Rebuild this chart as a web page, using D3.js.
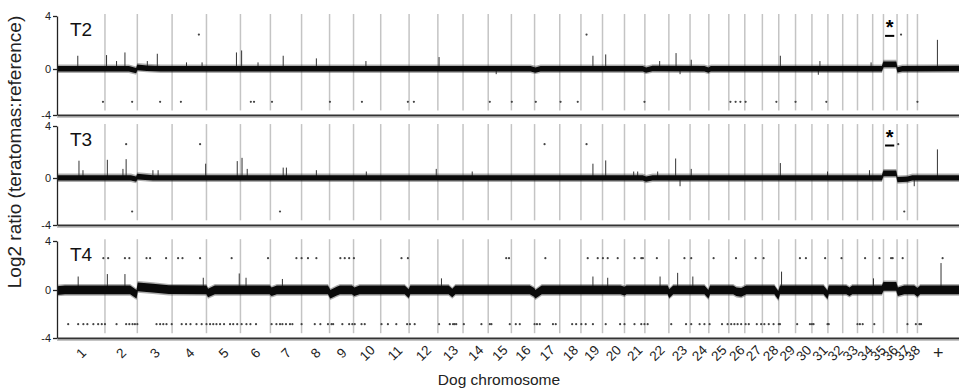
<!DOCTYPE html>
<html>
<head>
<meta charset="utf-8">
<script src="https://cdn.jsdelivr.net/npm/d3@7"></script>
<style>
  body { margin: 0; background: #fff; }
  svg { display: block; font-family: "Liberation Sans", Arial, Helvetica, sans-serif; }
</style>
</head>
<body>
<div id="chart"></div>
<script>
const chromNames = ["1","2","3","4","5","6","7","8","9","10","11","12","13","14","15","16","17","18","19","20",
  "21","22","23","24","25","26","27","28","29","30","31","32","33","34","35","36","37","38","+"];
const chromLengths = [120,81,87,86,85,75,78,70,60,68,71,72,63,63,58,58,63,53,54,55,
  51,60,53,47,50,40,44,41,42,41,40,37,37,38,27,34,26,25,104];

const panelNames = ["T2", "T3", "T4"];
const yTicks = [4, 0, -4];

// smoothed log2 ratio profile: [genome position (Mb), level]
const t2Profile = [[0,0],[180,0],[198,-0.15],[201,0.12],[225,0.05],[260,0],[1185,0],[1197,-0.1],[1210,0],
  [1466,0],[1474,-0.1],[1490,0.02],[1620,0],[1630,-0.1],[1636,0],[2064,0],[2068,0.35],[2100,0.35],
  [2103,-0.08],[2115,0],[2257,0.02]];
const t3Profile = [[0,0],[185,0],[198,-0.1],[201,0.1],[240,0],[1466,0],[1474,-0.1],[1490,0],[2064,0],
  [2068,0.35],[2100,0.35],[2103,-0.15],[2128,-0.1],[2140,0],[2257,0]];
const t4Profile = [[0,-0.05],[20,0],[183,0],[199,-0.35],[202,0.25],[240,0.15],[280,0.02],[374,0],[378,-0.25],
  [395,0],[532,0],[537,-0.15],[550,0],[678,0],[684,-0.35],[700,-0.1],[708,0],[738,0],[744,-0.15],[757,0],
  [870,0],[880,-0.3],[884,0],[980,0],[989,-0.25],[997,0],[1183,0],[1194,-0.2],[1197,-0.35],[1213,0],
  [1410,0],[1420,-0.1],[1425,0],[1528,0],[1532,-0.3],[1542,0],[1620,0],[1630,-0.35],[1634,0],[1692,0],
  [1700,-0.15],[1712,-0.2],[1725,0],[1795,0],[1805,-0.45],[1809,0],[1918,0],[1928,-0.4],[1931,0],[1975,0],
  [1983,-0.15],[1990,0],[2064,0],[2068,0.3],[2100,0.3],[2104,-0.15],[2120,0],[2145,0],[2153,-0.2],[2160,0],
  [2257,0]];
// probe scatter around the profile (half width, log2 units)
const noiseHalfWidth = [0.22, 0.22, 0.36];

// single outlying probes: [genome position, log2 ratio]
const t2Spikes = [[52,1.0],[124,1.05],[149,0.6],[170,1.25],[226,0.6],[251,1.15],[324,0.5],[363,0.5],[449,1.25],
  [462,1.4],[503,0.5],[566,1.0],[649,0.8],[773,0.6],[956,0.9],[1099,-0.45],[1341,1.0],[1373,1.1],[1508,0.6],
  [1549,1.2],[1559,-0.45],[1587,0.7],[1810,1.0],[1905,-0.5],[1909,0.6],[2037,0.5],[2203,2.2]];
const t3Spikes = [[55,1.33],[65,0.6],[126,1.4],[165,0.7],[173,1.45],[240,0.6],[253,0.6],[372,1.1],[451,1.3],
  [463,1.55],[476,0.7],[566,0.8],[574,0.8],[649,0.6],[774,0.5],[949,0.7],[1039,0.5],[1341,1.1],[1373,1.35],
  [1443,0.5],[1453,0.5],[1503,0.5],[1548,1.5],[1559,-0.7],[1587,0.7],[1810,1.15],[1928,0.5],[2033,0.6],
  [2145,-0.7],[2203,2.2]];
const t4Spikes = [[53,1.1],[126,1.3],[170,1.3],[366,1.0],[456,1.35],[473,1.0],[564,0.9],[962,0.95],[1341,1.1],
  [1378,1.0],[1509,1.1],[1553,1.4],[1591,1.1],[1813,1.5],[2043,0.95],[2212,2.2]];

// called gains (top row) and losses (bottom row): genome positions
const t2Gains = [355,1325,2112];
const t2Losses = [115,188,258,310,485,493,538,683,763,878,893,1083,1138,1198,1260,1303,1470,1685,1698,1710,
  1723,1800,1848,1925,2153];
const t3Gains = [173,358,1220,1325,2105];
const t3Losses = [188,558,2120];
const t4Gains = [116,128,170,181,224,233,273,303,314,358,437,528,599,612,628,649,709,720,731,743,862,878,1124,
  1131,1222,1328,1353,1366,1378,1403,1445,1462,1466,1501,1570,1587,1643,1699,1748,1768,1859,1874,1922,1963,
  2022,2058,2087,2091,2116,2216];
const t4Losses = [28,53,66,76,91,103,112,120,149,173,181,189,195,201,249,258,266,274,287,312,323,334,349,362,
  374,383,391,399,408,418,433,441,451,462,474,484,498,537,549,558,564,573,583,589,612,645,659,678,687,691,714,
  731,739,745,762,770,812,828,849,876,883,895,956,983,991,995,999,1018,1062,1083,1087,1133,1148,1158,1195,
  1201,1208,1241,1248,1289,1299,1312,1323,1341,1373,1409,1420,1445,1462,1470,1478,1537,1574,1587,1608,1620,
  1633,1664,1678,1687,1695,1703,1712,1723,1731,1751,1762,1770,1781,1793,1806,1809,1852,1884,1889,1893,1928,
  1931,2003,2009,2016,2045,2128,2149,2158,2162];
const gainLevel = 2.6;
const lossLevel = -2.85;

// significant gain marked with an asterisk (chromosome 36) in T2 and T3
const starredPanels = ["T2", "T3"];
const starredChrom = "36";

const profiles = [t2Profile, t3Profile, t4Profile];
const spikes = [t2Spikes, t3Spikes, t4Spikes];
const gains = [t2Gains, t3Gains, t4Gains];
const losses = [t2Losses, t3Losses, t4Losses];

// chart geometry
const width = 959, height = 388;
const left = 57, right = 959;
const panelLayout = [
  { top: 16, zero: 69, bottom: 115 },
  { top: 126, zero: 178, bottom: 225 },
  { top: 241, zero: 290, bottom: 338 }
];

const chromStarts = [];
let acc = 0;
chromLengths.forEach(l => { chromStarts.push(acc); acc += l; });
const genomeLength = acc;

const x = d3.scaleLinear().domain([0, genomeLength]).range([left, right]);

const svg = d3.select("#chart").append("svg")
  .attr("width", width)
  .attr("height", height);

panelNames.forEach((name, p) => {
  const lay = panelLayout[p];
  const y = d3.scaleLinear().domain([-4, 0, 4]).range([lay.bottom, lay.zero, lay.top]);
  const g = svg.append("g").attr("class", "panel");

  // chromosome separators
  g.selectAll("line.sep")
    .data(chromStarts.slice(1))
    .enter().append("line")
    .attr("class", "sep")
    .attr("x1", d => x(d)).attr("x2", d => x(d))
    .attr("y1", y(4.15)).attr("y2", y(-3.6))
    .attr("stroke", "#c4c4c4")
    .attr("stroke-width", 1.5);

  // gain / loss calls
  g.selectAll("circle.gain")
    .data(gains[p])
    .enter().append("circle")
    .attr("class", "gain")
    .attr("cx", d => x(d)).attr("cy", y(gainLevel))
    .attr("r", 1.1).attr("fill", "#444");
  g.selectAll("circle.loss")
    .data(losses[p])
    .enter().append("circle")
    .attr("class", "loss")
    .attr("cx", d => x(d)).attr("cy", y(lossLevel))
    .attr("r", 1.1).attr("fill", "#444");

  // ratio profile
  const w = noiseHalfWidth[p];
  const outer = d3.area()
    .x(d => x(d[0]))
    .y0(d => y(d[1] - w - 0.12))
    .y1(d => y(d[1] + w + 0.12));
  const inner = d3.area()
    .x(d => x(d[0]))
    .y0(d => y(d[1] - w))
    .y1(d => y(d[1] + w));
  g.append("path").attr("d", outer(profiles[p])).attr("fill", "#333").attr("opacity", 0.4);
  g.selectAll("line.spike")
    .data(spikes[p])
    .enter().append("line")
    .attr("class", "spike")
    .attr("x1", d => x(d[0])).attr("x2", d => x(d[0]))
    .attr("y1", y(0)).attr("y2", d => y(d[1]))
    .attr("stroke", "#333").attr("stroke-width", 1);
  g.append("path").attr("d", inner(profiles[p])).attr("fill", "#0a0a0a");

  // asterisk over chromosome 36
  if (starredPanels.includes(name)) {
    const ci = chromNames.indexOf(starredChrom);
    const s = chromStarts[ci], e = s + chromLengths[ci];
    g.append("line")
      .attr("x1", x(s + 4)).attr("x2", x(e - 7))
      .attr("y1", y(2.5)).attr("y2", y(2.5))
      .attr("stroke", "#000").attr("stroke-width", 2);
    g.append("text")
      .attr("x", x((s + e - 3) / 2)).attr("y", y(2.5) - 2)
      .attr("text-anchor", "middle")
      .attr("font-size", 20).attr("font-weight", "bold")
      .text("*");
  }

  // y axis
  const yAxis = d3.axisLeft(y).tickValues(yTicks).tickSize(4).tickSizeOuter(0)
    .tickFormat(d => String(d));
  const ya = g.append("g").attr("transform", `translate(${left},0)`).call(yAxis);
  ya.select(".domain").attr("stroke", "#222").attr("stroke-width", 1.3);
  ya.selectAll(".tick line").attr("stroke", "#222").attr("stroke-width", 1.3);
  ya.selectAll(".tick text").attr("font-size", 11).attr("fill", "#222")
    .attr("font-family", "Liberation Sans, Arial, sans-serif").attr("x", -6);

  // bottom rule of the panel
  const xAxis = d3.axisBottom(x).tickValues([]).tickSizeOuter(0);
  const xa = g.append("g").attr("transform", `translate(0,${y(-4)})`).call(xAxis);
  xa.select(".domain").attr("stroke", "#333").attr("stroke-width", 1.8);
  g.append("line")
    .attr("x1", left).attr("x2", right)
    .attr("y1", y(-4) + 2.2).attr("y2", y(-4) + 2.2)
    .attr("stroke", "#aaa").attr("stroke-width", 1);

  // panel name
  g.append("text")
    .attr("x", left + 13).attr("y", lay.top + 20)
    .attr("font-size", 19)
    .attr("fill", "#111")
    .text(name);
});

// chromosome labels
svg.append("g").selectAll("text")
  .data(chromNames)
  .enter().append("text")
  .attr("transform", (d, i) => {
    const cx = x(chromStarts[i] + chromLengths[i] / 2);
    return `translate(${cx},353) rotate(${d === "+" ? 0 : -45})`;
  })
  .attr("text-anchor", "middle")
  .attr("dy", "0.35em")
  .attr("font-size", d => d === "+" ? 18 : 13.5)
  .attr("fill", "#222")
  .text(d => d);

// axis titles
svg.append("text")
  .attr("x", 499).attr("y", 385)
  .attr("text-anchor", "middle")
  .attr("font-size", 15.5)
  .attr("fill", "#222")
  .text("Dog chromosome");

svg.append("text")
  .attr("transform", "translate(21,152) rotate(-90)")
  .attr("text-anchor", "middle")
  .attr("font-size", 19)
  .attr("fill", "#222")
  .text("Log2 ratio (teratomas:reference)");
</script>
</body>
</html>
